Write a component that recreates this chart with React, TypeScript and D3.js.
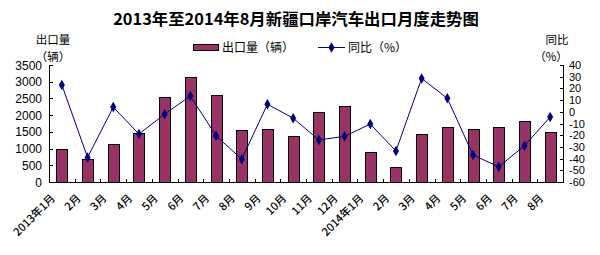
import React from "react";
import * as d3 from "d3";

const categories = ["2013年1月","2月","3月","4月","5月","6月","7月","8月","9月","10月","11月","12月","2014年1月","2月","3月","4月","5月","6月","7月","8月"];
const exportVolume = [980,690,1130,1460,2540,3140,2600,1550,1580,1370,2090,2270,900,450,1430,1640,1580,1640,1820,1500];
const yoyChange = [23,-39,4,-19,-2,13.5,-20.5,-40.5,6.5,-5.5,-24,-21,-10.5,-33.5,28.5,11.5,-37,-47,-29,-4.5];
const leftTicks = [0,500,1000,1500,2000,2500,3000,3500];
const rightTicks = [40,30,20,10,0,-10,-20,-30,-40,-50,-60];

const W = 600, H = 255;
const X0 = 49, X1 = 563, Y0 = 65, Y1 = 182;
const FONT = "'Liberation Sans', Arial, 'Noto Sans CJK SC', sans-serif";
const CJK = "'Noto Sans CJK SC', 'Liberation Sans', sans-serif";

export default function App() {
  const keys = categories.map((c, i) => i + ":" + c);
  const x = d3.scaleBand<string>().domain(keys).range([X0, X1]).padding(0);
  const yL = d3.scaleLinear().domain([0, 3500]).range([Y1, Y0]);
  const yR = d3.scaleLinear().domain([-60, 40]).range([Y1, Y0]);
  const bw = x.bandwidth();
  const barW = 11;
  const cx = (i: number) => (x(keys[i]) as number) + bw / 2;
  const line = d3.line<number>().x((_, i) => cx(i)).y((d) => yR(d));
  const diamond = d3.symbol().type(d3.symbolDiamond).size(32)();

  return (
    <svg width={W} height={H} style={{ position: "absolute", left: 0, top: 0, background: "#fff" }}>
      <rect x={0} y={0} width={W} height={H} fill="#fff" />
      <text x={296} y={25} textAnchor="middle" fontFamily={CJK} fontWeight="bold" fontSize={16.4} fill="#000">
        2013年至2014年8月新疆口岸汽车出口月度走势图
      </text>
      {/* legend */}
      <rect x={193.5} y={44.5} width={25} height={6} fill="#993366" stroke="#000" />
      <text x={222} y={52} fontFamily={CJK} fontSize={12}>出口量（辆）</text>
      <line x1={318} x2={345} y1={47.5} y2={47.5} stroke="#000080" strokeWidth={1} />
      <path d={diamond as string} transform="translate(331.5,47.5)" fill="#000080" />
      <text x={348} y={52} fontFamily={CJK} fontSize={12}>同比（%）</text>
      {/* axis titles */}
      <text x={53} y={44} textAnchor="middle" fontFamily={CJK} fontSize={11.5}>出口量</text>
      <text x={53} y={61} textAnchor="middle" fontFamily={CJK} fontSize={11.5}>（辆）</text>
      <text x={557} y={44} textAnchor="middle" fontFamily={CJK} fontSize={11.5}>同比</text>
      <text x={551} y={61} textAnchor="middle" fontFamily={CJK} fontSize={11.5}>（%）</text>
      {/* bars */}
      {exportVolume.map((v, i) => (
        <rect key={i} x={Math.round(cx(i) - barW / 2) + 0.5} y={Math.round(yL(v)) + 0.5} width={barW} height={Math.round(Y1 - yL(v))}
          fill="#993366" stroke="#000" strokeWidth={1} />
      ))}
      {/* axes */}
      <line x1={X0 + 0.5} x2={X0 + 0.5} y1={Y0} y2={Y1} stroke="#000" />
      <line x1={X1 + 0.5} x2={X1 + 0.5} y1={Y0} y2={Y1} stroke="#000" />
      <line x1={X0} x2={X1 + 1} y1={Y1 + 0.5} y2={Y1 + 0.5} stroke="#000" />
      {leftTicks.map((t) => (
        <g key={"l" + t}>
          <line x1={X0} x2={X0 + 4} y1={Math.round(yL(t)) + 0.5} y2={Math.round(yL(t)) + 0.5} stroke="#000" />
          <text x={42} y={yL(t) + 4.5} textAnchor="end" fontFamily={FONT} fontSize={12}>{t}</text>
        </g>
      ))}
      {rightTicks.map((t) => (
        <g key={"r" + t}>
          <line x1={X1 - 3} x2={X1 + 1} y1={Math.round(yR(t)) + 0.5} y2={Math.round(yR(t)) + 0.5} stroke="#000" />
          <text x={569} y={yR(t) + 4} textAnchor="start" fontFamily={FONT} fontSize={11}>{t}</text>
        </g>
      ))}
      {keys.map((k, i) => (
        <line key={"xt" + i} x1={Math.round(x(k) as number) + 0.5} x2={Math.round(x(k) as number) + 0.5} y1={Y1} y2={Y1 - 3} stroke="#000" />
      ))}
      {categories.map((c, i) => (
        <text key={"xl" + i} transform={`translate(${cx(i) - 6},${Y1 + 17}) rotate(-45)`} textAnchor="end"
          fontFamily={CJK} fontSize={11} fontWeight={500}>{c}</text>
      ))}
      {/* line */}
      <path d={line(yoyChange) as string} fill="none" stroke="#000080" strokeWidth={1} />
      {yoyChange.map((v, i) => (
        <path key={"m" + i} d={diamond as string} transform={`translate(${cx(i)},${yR(v)})`} fill="#000080" />
      ))}
    </svg>
  );
}
